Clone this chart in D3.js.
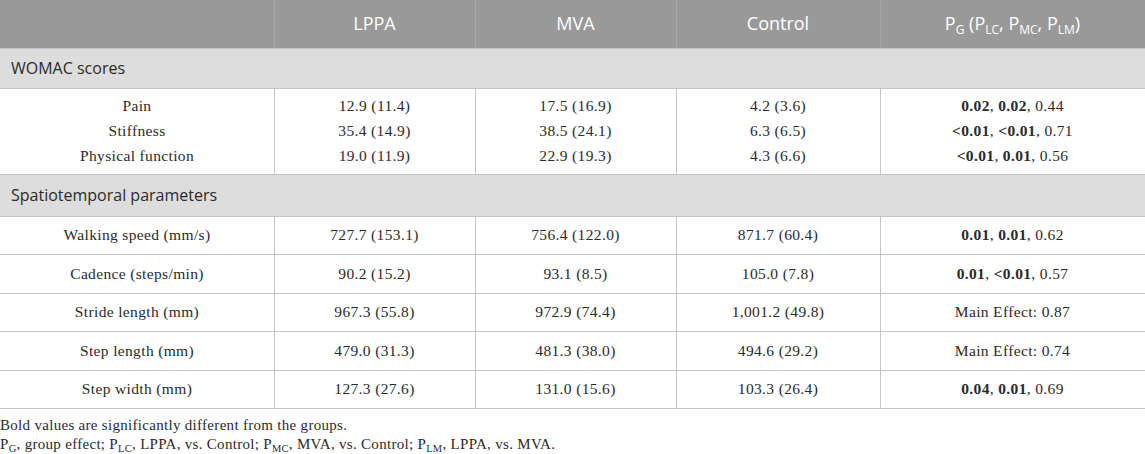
<!DOCTYPE html>
<html>
<head>
<meta charset="utf-8">
<script src="https://cdn.jsdelivr.net/npm/d3@7"></script>
<style>
  html, body { margin: 0; padding: 0; background: #ffffff; }
  svg { display: block; }
  .sans { font-family: "Open Sans", "Noto Sans", sans-serif; }
  .serif { font-family: "Liberation Serif", "DejaVu Serif", serif; }
</style>
</head>
<body>
<svg id="table" width="1145" height="454"></svg>
<script>
// table content
const groups = ["LPPA", "MVA", "Control"];

const womacLabels = ["Pain", "Stiffness", "Physical function"];
const womacLppa = [[12.9, 11.4], [35.4, 14.9], [19.0, 11.9]];
const womacMva = [[17.5, 16.9], [38.5, 24.1], [22.9, 19.3]];
const womacControl = [[4.2, 3.6], [6.3, 6.5], [4.3, 6.6]];
// each p entry: [text, bold]
const womacP = [
  [["0.02", true], ["0.02", true], ["0.44", false]],
  [["<0.01", true], ["<0.01", true], ["0.71", false]],
  [["<0.01", true], ["0.01", true], ["0.56", false]],
];

const gaitLabels = [
  "Walking speed (mm/s)",
  "Cadence (steps/min)",
  "Stride length (mm)",
  "Step length (mm)",
  "Step width (mm)",
];
const gaitLppa = [[727.7, 153.1], [90.2, 15.2], [967.3, 55.8], [479.0, 31.3], [127.3, 27.6]];
const gaitMva = [[756.4, 122.0], [93.1, 8.5], [972.9, 74.4], [481.3, 38.0], [131.0, 15.6]];
const gaitControl = [[871.7, 60.4], [105.0, 7.8], [1001.2, 49.8], [494.6, 29.2], [103.3, 26.4]];
const gaitP = [
  [["0.01", true], ["0.01", true], ["0.62", false]],
  [["0.01", true], ["<0.01", true], ["0.57", false]],
  [["Main Effect: 0.87", false]],
  [["Main Effect: 0.74", false]],
  [["0.04", true], ["0.01", true], ["0.69", false]],
];

const sectionTitles = ["WOMAC scores", "Spatiotemporal parameters"];

// layout
const W = 1145;
const colEdges = [0, 274, 475, 676, 880, 1145];
const HEADER_H = 48;
const SECTION_H = 40;
const WOMAC_H = 86;
const SECTION2_H = 42;
const GAIT_ROW_H = 38.4;

const COLOR_HEADER = "#999999";
const COLOR_SECTION = "#dcdddc";
const COLOR_RULE = "#c4c4c4";
const COLOR_TEXT = "#2b2b2b";

const fmt = d3.format(",.1f");
const cell = (v) => `${fmt(v[0])} (${fmt(v[1])})`;

const svg = d3.select("#table");

const colX = (i) => colEdges[i];
const colMid = (i) => (colEdges[i] + colEdges[i + 1]) / 2;

// header
const header = svg.append("g");
header.append("rect").attr("x", 0).attr("y", 0).attr("width", W).attr("height", HEADER_H).attr("fill", COLOR_HEADER);
header
  .selectAll("line")
  .data(d3.range(1, colEdges.length - 1))
  .join("line")
  .attr("x1", (i) => colX(i) + 0.5)
  .attr("x2", (i) => colX(i) + 0.5)
  .attr("y1", 0)
  .attr("y2", HEADER_H)
  .attr("stroke", "#a8a8a8");

header
  .selectAll("text.grp")
  .data(groups)
  .join("text")
  .attr("class", "grp sans")
  .attr("x", (_, i) => colMid(i + 1))
  .attr("y", HEADER_H / 2)
  .attr("dy", "0.35em")
  .attr("text-anchor", "middle")
  .attr("fill", "#ffffff")
  .attr("font-size", 18)
  .text((d) => d);

const pHead = header
  .append("text")
  .attr("class", "sans")
  .attr("x", colMid(4))
  .attr("y", HEADER_H / 2)
  .attr("dy", "0.35em")
  .attr("text-anchor", "middle")
  .attr("fill", "#ffffff")
  .attr("font-size", 18);
const headParts = [["P", null], ["G", "sub"], [" (P", null], ["LC", "sub"], [", P", null], ["MC", "sub"], [", P", null], ["LM", "sub"], [")", null]];
headParts.forEach(([t, kind]) => {
  const ts = pHead.append("tspan").text(t);
  if (kind === "sub") {
    ts.attr("font-size", 12).attr("baseline-shift", "-4");
  }
});

// section bar
function sectionBar(y, h, title) {
  const g = svg.append("g");
  g.append("rect").attr("x", 0).attr("y", y).attr("width", W).attr("height", h).attr("fill", COLOR_SECTION);
  g.append("line").attr("x1", 0).attr("x2", W).attr("y1", y + 0.5).attr("y2", y + 0.5).attr("stroke", COLOR_RULE);
  g.append("line").attr("x1", 0).attr("x2", W).attr("y1", y + h + 0.5).attr("y2", y + h + 0.5).attr("stroke", COLOR_RULE);
  g.append("text")
    .attr("class", "sans")
    .attr("x", 11)
    .attr("y", y + h / 2)
    .attr("dy", "0.35em")
    .attr("fill", COLOR_TEXT)
    .attr("font-size", 16)
    .text(title);
}

function pCell(sel, parts) {
  parts.forEach(([t, bold], k) => {
    sel.append("tspan").attr("font-weight", bold ? "bold" : "normal").text(t);
    if (k < parts.length - 1) sel.append("tspan").attr("font-weight", "normal").text(", ");
  });
}

function block(y0, y1, labels, a, b, c, p, rowScale, rules) {
  const g = svg.append("g");
  // vertical rules
  g.selectAll("line.v")
    .data(d3.range(1, colEdges.length - 1))
    .join("line")
    .attr("class", "v")
    .attr("x1", (i) => colX(i) + 0.5)
    .attr("x2", (i) => colX(i) + 0.5)
    .attr("y1", y0)
    .attr("y2", y1)
    .attr("stroke", COLOR_RULE);

  if (rules) {
    g.selectAll("line.h")
      .data(labels.slice(1))
      .join("line")
      .attr("class", "h")
      .attr("x1", 0)
      .attr("x2", W)
      .attr("y1", (d) => Math.round(rowScale(d)) + 0.5)
      .attr("y2", (d) => Math.round(rowScale(d)) + 0.5)
      .attr("stroke", COLOR_RULE);
  }
  g.append("line").attr("x1", 0).attr("x2", W).attr("y1", y1 + 0.5).attr("y2", y1 + 0.5).attr("stroke", COLOR_RULE);

  const rows = g
    .selectAll("g.row")
    .data(labels.map((label, i) => ({ label, a: a[i], b: b[i], c: c[i], p: p[i] })))
    .join("g")
    .attr("class", "row serif")
    .attr("transform", (d) => `translate(0,${rowScale(d.label) + rowScale.bandwidth() / 2})`)
    .attr("font-size", 15.5)
    .attr("letter-spacing", 0.35)
    .attr("fill", COLOR_TEXT);

  rows.append("text").attr("x", colMid(0)).attr("dy", "0.33em").attr("text-anchor", "middle").text((d) => d.label);
  rows.append("text").attr("x", colMid(1)).attr("dy", "0.33em").attr("text-anchor", "middle").text((d) => cell(d.a));
  rows.append("text").attr("x", colMid(2)).attr("dy", "0.33em").attr("text-anchor", "middle").text((d) => cell(d.b));
  rows.append("text").attr("x", colMid(3)).attr("dy", "0.33em").attr("text-anchor", "middle").text((d) => cell(d.c));
  rows.append("text")
    .attr("x", colMid(4))
    .attr("dy", "0.33em")
    .attr("text-anchor", "middle")
    .each(function (d) {
      pCell(d3.select(this), d.p);
    });
}

let y = HEADER_H;
sectionBar(y, SECTION_H, sectionTitles[0]);
y += SECTION_H;

const womacY = d3.scaleBand().domain(womacLabels).range([y + 5, y + WOMAC_H - 5]);
block(y, y + WOMAC_H, womacLabels, womacLppa, womacMva, womacControl, womacP, womacY, false);
y += WOMAC_H;

sectionBar(y, SECTION2_H, sectionTitles[1]);
y += SECTION2_H;

const gaitY = d3.scaleBand().domain(gaitLabels).range([y, y + GAIT_ROW_H * gaitLabels.length]);
block(y, y + GAIT_ROW_H * gaitLabels.length, gaitLabels, gaitLppa, gaitMva, gaitControl, gaitP, gaitY, true);
y += GAIT_ROW_H * gaitLabels.length;

// footnotes
const notes = svg.append("g").attr("class", "serif").attr("font-size", 15).attr("letter-spacing", 0.3).attr("fill", COLOR_TEXT);
notes.append("text").attr("x", 0).attr("y", y + 22).text("Bold values are significantly different from the groups.");
const n2 = notes.append("text").attr("x", 0).attr("y", y + 41);
const noteParts = [["P", null], ["G", "sub"], [", group effect; P", null], ["LC", "sub"], [", LPPA, vs. Control; P", null], ["MC", "sub"], [", MVA, vs. Control; P", null], ["LM", "sub"], [", LPPA, vs. MVA.", null]];
noteParts.forEach(([t, kind]) => {
  const ts = n2.append("tspan").text(t);
  if (kind === "sub") ts.attr("font-size", 10.5).attr("baseline-shift", "-3");
});
</script>
</body>
</html>
